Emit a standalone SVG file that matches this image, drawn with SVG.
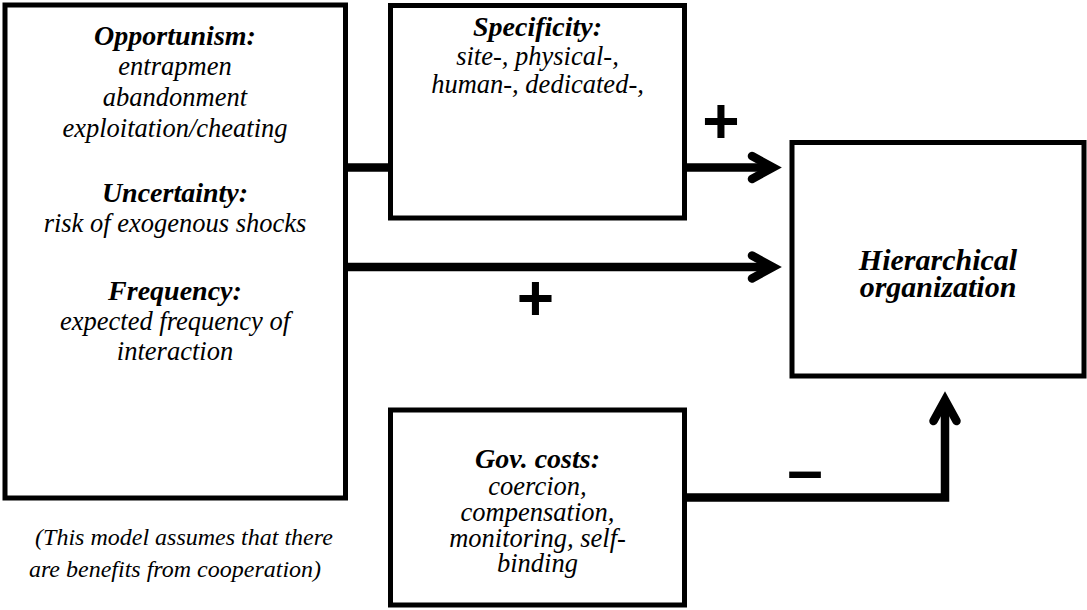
<svg xmlns="http://www.w3.org/2000/svg" width="1087" height="610" viewBox="0 0 1087 610">
<style>
.box{fill:#fff;stroke:#000;stroke-width:5}
.h{font-family:"Liberation Serif","Times New Roman",serif;font-weight:bold;font-style:italic;font-size:28px;text-anchor:middle;fill:#000}
.t{font-family:"Liberation Serif","Times New Roman",serif;font-style:italic;font-size:26.5px;text-anchor:middle;fill:#000}
.note{font-family:"Liberation Serif","Times New Roman",serif;font-style:italic;font-size:24px;text-anchor:middle;fill:#000}
.conn{fill:none;stroke:#000;stroke-width:8.5;stroke-linejoin:miter}
.head{fill:none;stroke:#000;stroke-width:8.5;stroke-linecap:round;stroke-linejoin:miter}
.sign{font-family:"Liberation Sans",Arial,sans-serif;font-weight:bold;font-size:64px;text-anchor:middle;fill:#000}
</style>
<g id="connectors">
<path class="conn" d="M347,167.5 H390"/>
<path class="conn" d="M687,167.5 H773"/>
<path class="head" d="M752,156 L773,167.5 L752,179"/>
<path class="conn" d="M347,267 H773"/>
<path class="head" d="M752,255.5 L773,267 L752,278.5"/>
<path class="conn" d="M687,497.5 H945 V400"/>
<path class="head" d="M933.5,421 L945,400 L956.5,421"/>
<text class="sign" x="721" y="143">+</text>
<text class="sign" x="535.5" y="320">+</text>
<text class="sign" x="805" y="492">–</text>
</g>
<g id="factors">
<rect class="box" x="5" y="5" width="340.5" height="493"/>
<text class="h" x="175" y="45">Opportunism:</text>
<text class="t" x="175" y="75">entrapmen</text>
<text class="t" x="175" y="106">abandonment</text>
<text class="t" x="175" y="137">exploitation/cheating</text>
<text class="h" x="175" y="202">Uncertainty:</text>
<text class="t" x="175" y="232">risk of exogenous shocks</text>
<text class="h" x="175" y="300">Frequency:</text>
<text class="t" x="175" y="330">expected frequency of</text>
<text class="t" x="175" y="360">interaction</text>
</g>
<g id="specificity">
<rect class="box" x="390.5" y="5.5" width="294" height="212.5"/>
<text class="h" x="537.5" y="36">Specificity:</text>
<text class="t" x="537.5" y="65">site-, physical-,</text>
<text class="t" x="537.5" y="93">human-, dedicated-,</text>
</g>
<g id="hierarchical">
<rect class="box" x="792" y="142.5" width="292" height="233.5"/>
<text class="h" x="938" y="270" style="font-size:30px">Hierarchical</text>
<text class="h" x="938" y="297" style="font-size:30px">organization</text>
</g>
<g id="govcosts">
<rect class="box" x="390.5" y="410" width="294" height="195"/>
<text class="h" x="537.5" y="468">Gov. costs:</text>
<text class="t" x="537.5" y="495">coercion,</text>
<text class="t" x="537.5" y="521">compensation,</text>
<text class="t" x="537.5" y="547">monitoring, self-</text>
<text class="t" x="537.5" y="572">binding</text>
</g>
<g id="note">
<text class="note" x="184" y="545">(This model assumes that there</text>
<text class="note" x="175" y="577">are benefits from cooperation)</text>
</g>
</svg>
